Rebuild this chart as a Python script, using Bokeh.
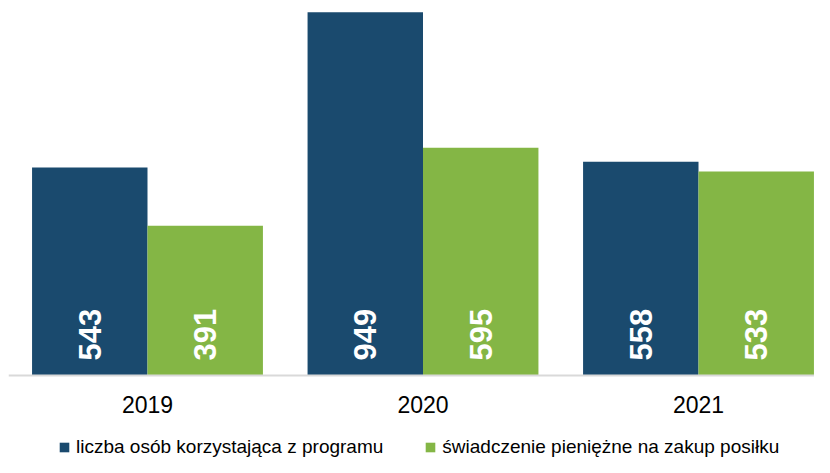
from bokeh.plotting import figure
from bokeh.models import ColumnDataSource, Range1d, FixedTicker, Legend, LegendItem, LinearAxis
from bokeh.core.properties import value
from bokeh.embed import file_html
from bokeh.resources import INLINE
import math

years = ["2019", "2020", "2021"]
users = [543, 949, 558]
benefit = [391, 595, 533]
series_names = ["liczba osób korzystająca z programu", "świadczenie pieniężne na zakup posiłku"]

BLUE = "#1A4A6E"
GREEN = "#84B645"
FONT = "Liberation Sans"

xs = list(range(len(years)))
bw = 0.419
off = bw / 2

src_u = ColumnDataSource(dict(x=[i - off for i in xs], top=users, lab=[str(v) for v in users], y0=[0] * 3))
src_b = ColumnDataSource(dict(x=[i + off for i in xs], top=benefit, lab=[str(v) for v in benefit], y0=[0] * 3))

p = figure(frame_width=806, frame_height=457, output_backend="svg", toolbar_location=None,
           x_range=Range1d(-0.5045, 2.421), y_range=Range1d(-214.2, 979.5),
           x_axis_location=None, y_axis_location=None,
           min_border_left=8, min_border_right=0, min_border_top=0, min_border_bottom=0)

r1 = p.vbar(x="x", top="top", width=bw, source=src_u, fill_color=BLUE, line_color=None)
r2 = p.vbar(x="x", top="top", width=bw, source=src_b, fill_color=GREEN, line_color=None)

for s in (src_u, src_b):
    p.text(x="x", y="y0", text="lab", source=s, angle=math.pi / 2, y_offset=-15,
           text_align="left", text_baseline="middle", text_color="white",
           text_font=value(FONT), text_font_style="bold", text_font_size="31px")

p.xgrid.visible = False
p.ygrid.visible = False
p.outline_line_color = None

ax = LinearAxis(fixed_location=0)
ax.ticker = FixedTicker(ticks=xs)
ax.major_label_overrides = {i: y for i, y in zip(xs, years)}
ax.axis_line_color = "#D9D9D9"
ax.axis_line_width = 2
ax.major_tick_line_color = None
ax.minor_tick_line_color = None
ax.major_label_text_font = FONT
ax.major_label_text_font_size = "23px"
ax.major_label_text_color = "#000000"
ax.major_label_standoff = 15
p.add_layout(ax, "below")

legend = Legend(items=[LegendItem(label=series_names[0], renderers=[r1]),
                       LegendItem(label=series_names[1], renderers=[r2])],
                orientation="horizontal", location=(50, -1),
                label_text_font=FONT, label_text_font_size="19px", label_text_color="#000000",
                glyph_width=12, glyph_height=12, label_standoff=6, spacing=41,
                padding=0, margin=0, border_line_color=None, background_fill_alpha=0)
p.add_layout(legend, "center")

open("out.html", "w").write(file_html(p, INLINE))
